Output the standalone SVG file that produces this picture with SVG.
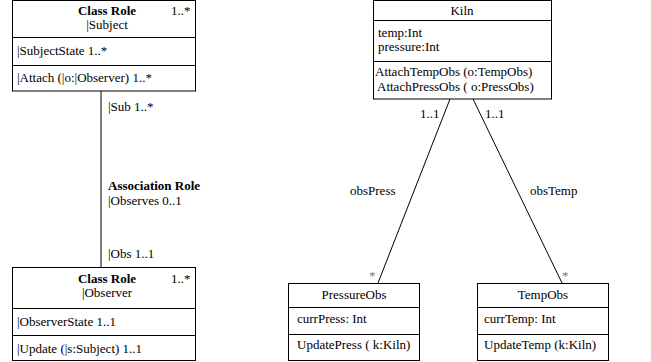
<svg xmlns="http://www.w3.org/2000/svg" width="651" height="362" viewBox="0 0 651 362" font-family="'Liberation Serif', 'DejaVu Serif', serif" font-size="13">
  <style>
    .box { fill: #fff; stroke: #000; stroke-width: 1; }
    .sep { stroke: #000; stroke-width: 1; }
    .conn { stroke: #000; stroke-width: 1; fill: none; }
    text { font-family: "Liberation Serif", "DejaVu Serif", serif; font-size: 13px; fill: #000; }
    .b { font-weight: bold; }
    .c { text-anchor: middle; }
    .mult { fill: #777; }
  </style>

  <rect width="651" height="362" fill="#fff"/>

  <!-- connectors -->
  <g id="connectors">
    <line class="conn" x1="101" y1="91" x2="101" y2="267"/>
    <text x="108" y="111">|Sub 1..*</text>
    <text x="108" y="190" class="b">Association Role</text>
    <text x="108" y="205">|Observes 0..1</text>
    <text x="108" y="258">|Obs 1..1</text>

    <line class="conn" x1="450" y1="99" x2="378" y2="283"/>
    <line class="conn" x1="473" y1="99" x2="562" y2="283"/>
    <text x="420" y="118">1..1</text>
    <text x="485" y="118">1..1</text>
    <text x="350" y="195">obsPress</text>
    <text x="530" y="195">obsTemp</text>
    <text x="369" y="280" class="mult">*</text>
    <text x="562" y="280" class="mult">*</text>
  </g>

  <!-- Subject class role -->
  <g id="subject">
    <rect class="box" x="12.5" y="0.5" width="183" height="90.5"/>
    <line class="sep" x1="12.5" y1="37.5" x2="195.5" y2="37.5"/>
    <line class="sep" x1="12.5" y1="65.5" x2="195.5" y2="65.5"/>
    <text x="107" y="15" class="b c">Class Role</text>
    <text x="171" y="15">1..*</text>
    <text x="107" y="29" class="c">|Subject</text>
    <text x="17" y="55">|SubjectState 1..*</text>
    <text x="17" y="82">|Attach (|o:|Observer) 1..*</text>
  </g>

  <!-- Observer class role -->
  <g id="observer">
    <rect class="box" x="12.5" y="267.5" width="183" height="93"/>
    <line class="sep" x1="12.5" y1="308.5" x2="195.5" y2="308.5"/>
    <line class="sep" x1="12.5" y1="335.5" x2="195.5" y2="335.5"/>
    <text x="107" y="283" class="b c">Class Role</text>
    <text x="171" y="283">1..*</text>
    <text x="107" y="297" class="c">|Observer</text>
    <text x="17" y="326">|ObserverState 1..1</text>
    <text x="17" y="353">|Update (|s:Subject) 1..1</text>
  </g>

  <!-- Kiln -->
  <g id="kiln">
    <rect class="box" x="373.5" y="0.5" width="178" height="98.5"/>
    <line class="sep" x1="373.5" y1="20.5" x2="551.5" y2="20.5"/>
    <line class="sep" x1="373.5" y1="61.5" x2="551.5" y2="61.5"/>
    <text x="462" y="15" class="c">Kiln</text>
    <text x="378" y="37">temp:Int</text>
    <text x="378" y="51">pressure:Int</text>
    <text x="375" y="76">AttachTempObs (o:TempObs)</text>
    <text x="377" y="91">AttachPressObs ( o:PressObs)</text>
  </g>

  <!-- PressureObs -->
  <g id="pressureobs">
    <rect class="box" x="288.5" y="283.5" width="131" height="77"/>
    <line class="sep" x1="288.5" y1="307.5" x2="419.5" y2="307.5"/>
    <line class="sep" x1="288.5" y1="334.5" x2="419.5" y2="334.5"/>
    <text x="354" y="299" class="c">PressureObs</text>
    <text x="297" y="323">currPress: Int</text>
    <text x="297" y="349">UpdatePress ( k:Kiln)</text>
  </g>

  <!-- TempObs -->
  <g id="tempobs">
    <rect class="box" x="477.5" y="283.5" width="131" height="77"/>
    <line class="sep" x1="477.5" y1="307.5" x2="608.5" y2="307.5"/>
    <line class="sep" x1="477.5" y1="334.5" x2="608.5" y2="334.5"/>
    <text x="543" y="299" class="c">TempObs</text>
    <text x="484" y="323">currTemp: Int</text>
    <text x="484" y="349">UpdateTemp (k:Kiln)</text>
  </g>
</svg>
